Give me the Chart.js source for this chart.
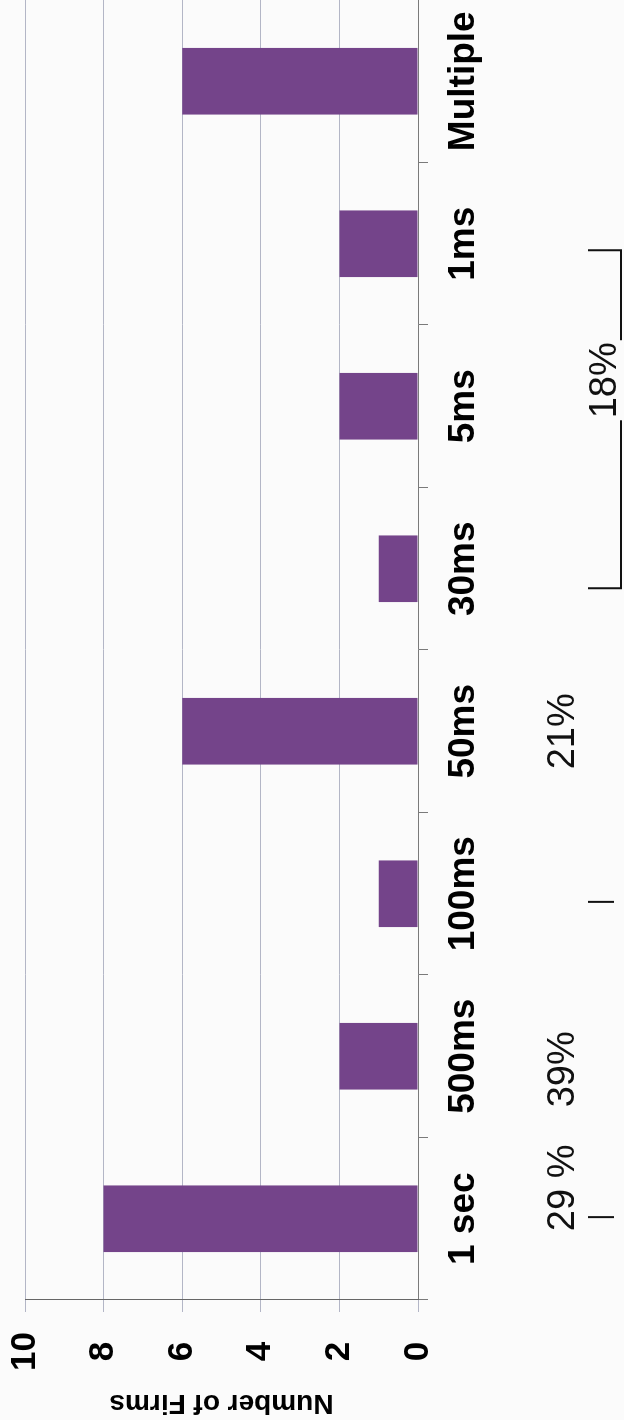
<!DOCTYPE html>
<html>
<head>
<meta charset="utf-8">
<title>Number of Firms by Interval</title>
<script src="https://cdn.jsdelivr.net/npm/chart.js@4/dist/chart.umd.min.js"></script>
<style>
    html, body { margin: 0; padding: 0; background: #fbfbfb; }
    body { width: 624px; height: 1420px; overflow: hidden; position: relative; }
    /* chart is laid out landscape and turned a quarter turn counter-clockwise */
    #wrap {
        position: absolute; left: 0; top: 0;
        width: 1420px; height: 624px;
        transform-origin: 0 0;
        transform: translate(0, 1420px) rotate(-90deg);
    }
</style>
</head>
<body>
<div id="wrap"><canvas id="firmsChart" width="1420" height="624"></canvas></div>
<script>
const intervals = ["1 sec", "500ms", "100ms", "50ms", "30ms", "5ms", "1ms", "Multiple"];
const firmCounts = [8, 2, 1, 6, 1, 2, 2, 6];
const countTicks = [0, 2, 4, 6, 8, 10];

// share labels under the category names, anchored in category units
const shareLabels = ["29 %", "39%", "21%"];
const shareAt = [0.19, 0.92, 3.0];
const bracketLabel = "18%";
const bracketSpan = [3.88, 5.96];
const bracketLabelAt = 5.16;
const loneMarks = [0.01, 1.95];

const FONT = "'Liberation Sans', Arial, Helvetica, sans-serif";

const shareNotes = {
    id: "shareNotes",
    afterDraw(chart) {
        const ctx = chart.ctx;
        const x = chart.scales.x;
        ctx.save();
        ctx.fillStyle = "#111";
        ctx.strokeStyle = "#111";
        ctx.lineWidth = 2;
        ctx.font = "38px " + FONT;
        ctx.textAlign = "center";
        ctx.textBaseline = "alphabetic";

        shareLabels.forEach((s, i) => {
            ctx.fillText(s, x.getPixelForValue(shareAt[i]), 574);
        });

        // short marks at the group edges
        loneMarks.forEach(v => {
            const px = x.getPixelForValue(v);
            ctx.beginPath();
            ctx.moveTo(px, 588);
            ctx.lineTo(px, 614);
            ctx.stroke();
        });

        // bracket with its label sitting in a gap of the line
        const a = x.getPixelForValue(bracketSpan[0]);
        const b = x.getPixelForValue(bracketSpan[1]);
        const c = x.getPixelForValue(bracketLabelAt);
        const half = ctx.measureText(bracketLabel).width / 2 + 2;
        ctx.fillText(bracketLabel, c, 616);
        ctx.beginPath();
        ctx.moveTo(a, 588); ctx.lineTo(a, 621); ctx.lineTo(c - half, 621);
        ctx.moveTo(c + half, 621); ctx.lineTo(b, 621); ctx.lineTo(b, 588);
        ctx.stroke();
        ctx.restore();
    }
};

new Chart(document.getElementById("firmsChart").getContext("2d"), {
    type: "bar",
    data: {
        labels: intervals,
        datasets: [{
            label: "Number of Firms",
            data: firmCounts,
            backgroundColor: "#74448a",
            borderWidth: 0,
            barPercentage: 0.41,
            categoryPercentage: 1
        }]
    },
    options: {
        responsive: false,
        animation: false,
        devicePixelRatio: 1,
        layout: { padding: { top: 25, right: 0, bottom: 0, left: 0 } },
        plugins: { legend: { display: false }, tooltip: { enabled: false } },
        scales: {
            x: {
                offset: true,
                afterFit: s => { s.height = 206; s.paddingLeft = 0; s.paddingRight = 0; },
                border: { display: true, color: "#7a7a7a", width: 1 },
                grid: { drawOnChartArea: false, tickLength: 10, color: "#7a7a7a", offset: true },
                ticks: {
                    color: "#000", maxRotation: 0, autoSkip: false, padding: 14,
                    font: { family: FONT, size: 37, weight: "bold" }
                }
            },
            y: {
                min: 0, max: 10,
                afterFit: s => { s.width = 120; s.paddingTop = 0; s.paddingBottom = 0; },
                afterBuildTicks: s => { s.ticks = countTicks.map(v => ({ value: v })); },
                border: { display: true, color: "#666", width: 1 },
                grid: { color: "#b3b6c6", tickLength: 12 },
                ticks: {
                    color: "#000", padding: 20, crossAlign: "center",
                    font: { family: FONT, size: 35, weight: "bold" }
                },
                title: {
                    display: true, text: "Number of Firms", color: "#000",
                    padding: 0,
                    font: { family: FONT, size: 28, weight: "bold" }
                }
            }
        }
    },
    plugins: [shareNotes]
});
</script>
</body>
</html>
